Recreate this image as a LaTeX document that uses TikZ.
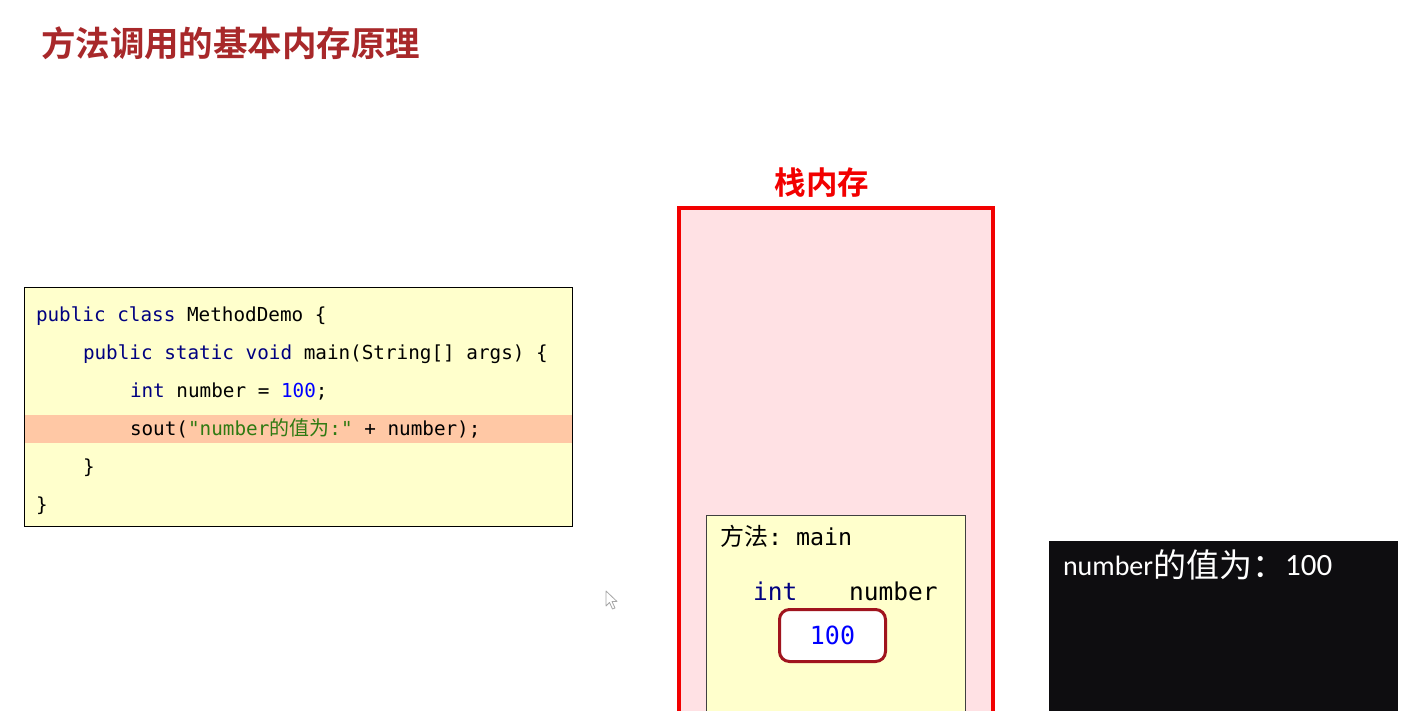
\documentclass[tikz,border=0pt]{standalone}
\usepackage{fontspec}
\setmonofont{DejaVu Sans Mono}
\newfontfamily\cjk[BoldFont={Noto Sans CJK SC Bold}]{Noto Sans CJK SC}
\newfontfamily\cali{Carlito}
\definecolor{titlered}{HTML}{A8282A}
\definecolor{stackred}{HTML}{F20000}
\definecolor{stackfill}{HTML}{FFE1E4}
\definecolor{codefill}{HTML}{FFFFCC}
\definecolor{hilite}{HTML}{FFC8A5}
\definecolor{kw}{HTML}{000080}
\definecolor{num}{HTML}{0000FF}
\definecolor{str}{HTML}{2F7A12}
\definecolor{framebd}{HTML}{404040}
\definecolor{valbd}{HTML}{A0141E}
\definecolor{console}{HTML}{0E0D10}
\tikzset{
  txt/.style={inner sep=0pt, outer sep=0pt},
  codeline/.style={txt, anchor=base west, font=\fontsize{19.3pt}{22pt}\selectfont\ttfamily},
}
\begin{document}
\begin{tikzpicture}[x=1pt,y=-1pt]
\useasboundingbox (0,0) rectangle (1427,710);
\fill[white] (0,0) rectangle (1427,710);
\clip (0,0) rectangle (1427,710);

% title
\node[txt, anchor=west, text=titlered, font=\cjk\bfseries\fontsize{34.5pt}{36pt}\selectfont] (title) at (41,43) {方法调用的基本内存原理};

% code box
\fill[codefill] (23.5,286.5) rectangle (571.5,525.5);
\fill[hilite] (23.5,415) rectangle (571.5,443);
\node[draw=black, line width=1.5pt, minimum width=548pt, minimum height=239pt, anchor=north west, inner sep=0pt] (code) at (23.5,286.5) {};
\node[codeline] (l1) at (36,321) {{\color{kw}public class} MethodDemo \{};
\node[codeline] (l2) at (83,359) {{\color{kw}public static void} main(String[] args) \{};
\node[codeline] (l3) at (130,397) {{\color{kw}int} number = {\color{num}100};};
\node[codeline] (l4) at (130,435) {sout({\color{str}"number{\cjk\fontsize{20pt}{22pt}\selectfont 的值为}:"} + number);};
\node[codeline] (l5) at (83,473) {\}};
\node[codeline] (l6) at (36,511) {\}};

% cursor
\draw[gray!70, fill=white, line width=0.8pt, line join=round] (606,591) -- (606,606) -- (609.5,602.5) -- (612.5,609) -- (615,608) -- (612,601.5) -- (617,601.5) -- cycle;

% stack
\node[txt, text=stackred, font=\cjk\bfseries\fontsize{31.5pt}{33pt}\selectfont] (stacktitle) at (822,183) {栈内存};
\draw[stackred, line width=4pt, fill=stackfill] (679,208) rectangle (993,730);

% method frame
\draw[framebd, line width=1pt, fill=codefill] (706,515) rectangle (965,730);
\node[txt, anchor=base west, font=\fontsize{23.3pt}{25pt}\selectfont\ttfamily] (mlabel) at (720,545) {{\cjk\fontsize{24pt}{25pt}\selectfont 方法}: main};
\node[txt, anchor=base west, text=kw, font=\fontsize{24.5pt}{26pt}\selectfont\ttfamily] (vtype) at (753,600) {int};
\node[txt, anchor=base west, font=\fontsize{24.5pt}{26pt}\selectfont\ttfamily] (vname) at (849,600) {number};
\node[draw=valbd, line width=3pt, fill=white, rounded corners=10pt, minimum width=106pt, minimum height=52pt, inner sep=0pt] (vbox) at (832.5,635.5) {};
\node[txt, text=num, font=\fontsize{25pt}{26pt}\selectfont\ttfamily] (vval) at (vbox.center) {100};

% console
\fill[console] (1049,541) rectangle (1398,730);
\node[txt, anchor=base west, text=white] (out) at (1063,575) {{\cali\fontsize{28pt}{30pt}\selectfont number}{\cjk\fontsize{33pt}{34pt}\selectfont\raisebox{-2.5pt}{的值为：}}{\cali\fontsize{31pt}{32pt}\selectfont 100}};
\end{tikzpicture}
\end{document}
